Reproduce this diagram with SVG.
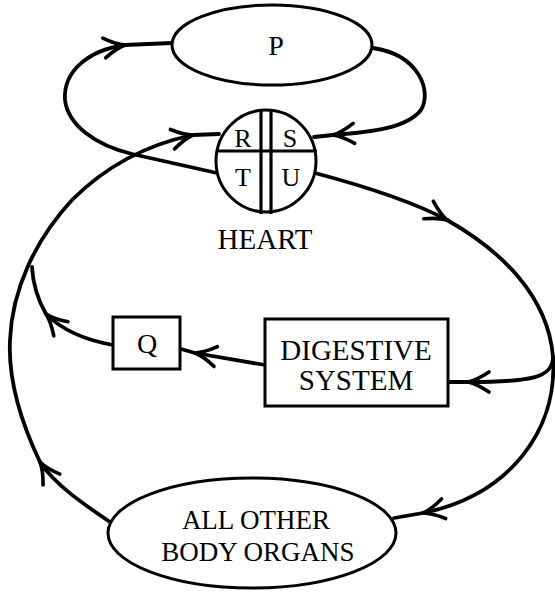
<svg xmlns="http://www.w3.org/2000/svg" width="555" height="594" viewBox="0 0 555 594">
<defs>
<marker id="arr" markerUnits="userSpaceOnUse" markerWidth="30" markerHeight="30" viewBox="-26 -15 30 30" refX="0" refY="0" orient="auto">
<path d="M-21,-10 Q-9,-2 0,0 Q-9,2 -21,10" fill="none" stroke="#000" stroke-width="3.6" stroke-linecap="round" stroke-linejoin="round"/>
</marker>
</defs>
<style>
.shape{fill:#fff;stroke:#000;stroke-width:3}
.line{fill:none;stroke:#000;stroke-width:3.8;stroke-linecap:round;stroke-linejoin:round}
.arrow{marker-end:url(#arr)}
.lbl{font-family:"Liberation Serif","Times New Roman",serif;fill:#000;text-anchor:middle}
</style>
<rect width="555" height="594" fill="#fff"/>
<g id="connectors">
<path class="line arrow" d="M217,173 L132,154 C95,145 68,125 65,100 C63,70 90,50 125,45"/>
<path class="line" d="M125,45 L172,43"/>
<path class="line arrow" d="M373,48 C420,55 432,92 421,110 C407,128 372,132 333,135"/>
<path class="line" d="M333,135 L314,137"/>
<path class="line arrow" d="M315,173 C360,185 410,200 447,220"/>
<path class="line" d="M447,220 C500,250 548,295 553,357"/>
<path class="line arrow" d="M553,357 C553,378 530,382 468,382"/>
<path class="line" d="M468,382 L448,382"/>
<path class="line arrow" d="M553,357 C558,430 510,495 423,513"/>
<path class="line" d="M423,513 L394,518"/>
<path class="line arrow" d="M265,365 L195,353"/>
<path class="line" d="M195,353 L181,349"/>
<path class="line arrow" d="M113,345 C85,340 62,330 46,314"/>
<path class="line" d="M46,314 C38,300 33,285 32,267"/>
<path class="line arrow" d="M110,522 C85,505 55,485 40,462"/>
<path class="line arrow" d="M40,462 C20,420 8,380 10,340 C12,290 35,240 72,200 C100,172 140,146 193,135"/>
<path class="line" d="M193,135 L219,134"/>
</g>
<g id="P">
<ellipse class="shape" cx="272" cy="45" rx="100" ry="40"/>
<text class="lbl" x="276" y="55" font-size="28">P</text>
</g>
<g id="heart">
<ellipse class="shape" cx="266" cy="161" rx="50" ry="51"/>
<line x1="216" y1="151" x2="317" y2="151" stroke="#000" stroke-width="3"/>
<line x1="261" y1="110" x2="261" y2="214" stroke="#000" stroke-width="3.2"/>
<line x1="271" y1="110" x2="271" y2="214" stroke="#000" stroke-width="3.2"/>
<text class="lbl" x="243" y="147" font-size="26">R</text>
<text class="lbl" x="290" y="147" font-size="26">S</text>
<text class="lbl" x="243" y="186" font-size="26">T</text>
<text class="lbl" x="291" y="186" font-size="26">U</text>
<text class="lbl" x="265" y="249" font-size="29">HEART</text>
</g>
<g id="Q">
<rect class="shape" x="113" y="317" width="67" height="52"/>
<text class="lbl" x="147" y="353" font-size="28">Q</text>
</g>
<g id="digestive">
<rect class="shape" x="265" y="319" width="183" height="87"/>
<text class="lbl" x="356" y="360" font-size="29">DIGESTIVE</text>
<text class="lbl" x="356" y="390" font-size="29">SYSTEM</text>
</g>
<g id="organs">
<ellipse class="shape" cx="252" cy="533" rx="144" ry="55"/>
<text class="lbl" x="256" y="529" font-size="27">ALL OTHER</text>
<text class="lbl" x="258" y="561" font-size="27">BODY ORGANS</text>
</g>
</svg>
